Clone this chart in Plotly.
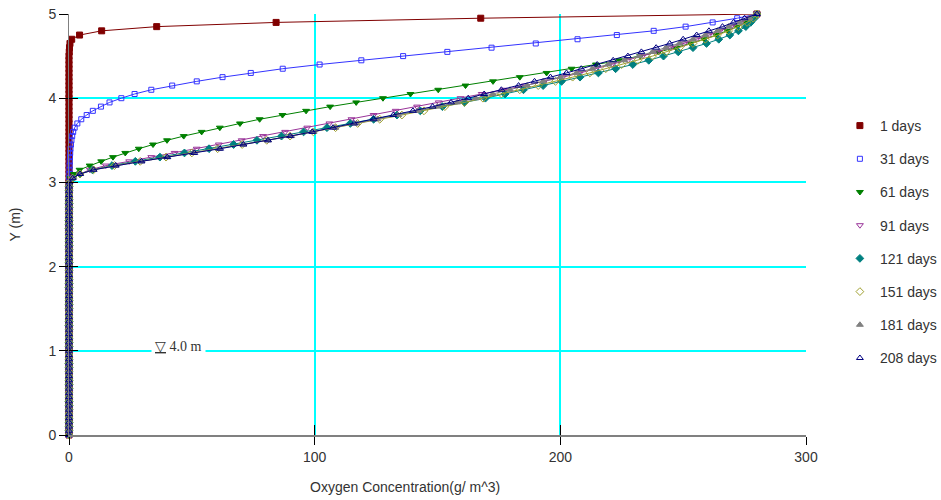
import plotly.graph_objects as go

# Vertical position of each profile node (m)
Y_NODES = [
    0.00, 0.05, 0.10, 0.15, 0.20, 0.25, 0.30, 0.35, 0.40, 0.45,
    0.50, 0.55, 0.60, 0.65, 0.70, 0.75, 0.80, 0.85, 0.90, 0.95,
    1.00, 1.05, 1.10, 1.15, 1.20, 1.25, 1.30, 1.35, 1.40, 1.45,
    1.50, 1.55, 1.60, 1.65, 1.70, 1.75, 1.80, 1.85, 1.90, 1.95,
    2.00, 2.05, 2.10, 2.15, 2.20, 2.25, 2.30, 2.35, 2.40, 2.45,
    2.50, 2.55, 2.60, 2.65, 2.70, 2.75, 2.80, 2.85, 2.90,
    2.95,
    3.00, 3.05, 3.10, 3.15, 3.20, 3.25, 3.30, 3.35, 3.40, 3.45,
    3.50, 3.55, 3.60, 3.65, 3.70, 3.75, 3.80, 3.85, 3.90, 3.95,
    4.00, 4.05, 4.10, 4.15, 4.20, 4.25, 4.30, 4.35, 4.40, 4.45,
    4.50, 4.55, 4.60, 4.65, 4.70, 4.75, 4.80, 4.85, 4.90, 4.95,
    5.00,
]

# Oxygen concentration (g/m^3) at each node, one list per simulation day
C_1D = [
    0, 0, 0, 0, 0, 0, 0, 0, 0, 0, 0, 0, 0, 0, 0, 0, 0, 0, 0, 0,
    0, 0, 0, 0, 0, 0, 0, 0, 0, 0, 0, 0, 0, 0, 0, 0, 0, 0, 0, 0,
    0, 0, 0, 0, 0, 0, 0, 0, 0, 0, 0, 0, 0, 0, 0, 0, 0, 0, 0,
    0,
    0, 0, 0, 0, 0, 0, 0, 0, 0, 0,
    0, 0, 0, 0, 0, 0, 0, 0, 0, 0,
    0, 0, 0, 0, 0, 0, 0, 0, 0, 0,
    0, 0.1, 0.2, 0.4, 1.1, 4.3, 13.3, 35.7, 84.3, 167.6,
    280,
]
C_31D = [
    0, 0, 0, 0, 0, 0, 0, 0, 0, 0, 0, 0, 0, 0, 0, 0, 0, 0, 0, 0,
    0, 0, 0, 0, 0, 0, 0, 0, 0, 0, 0, 0, 0, 0, 0, 0, 0, 0, 0, 0,
    0, 0, 0, 0, 0, 0, 0, 0, 0, 0, 0, 0, 0, 0, 0, 0, 0, 0, 0,
    0,
    0.05, 0.1, 0.15, 0.2, 0.25, 0.3, 0.4, 0.5, 0.6, 0.8,
    1.0, 1.3, 1.7, 2.3, 3.4, 5.0, 7.2, 9.7, 13.0, 16.5,
    21.3, 26.7, 33.5, 42, 52, 62.5, 74, 87, 102, 119,
    136, 154, 172, 190, 207, 223, 238, 251, 262, 272,
    280,
]
C_61D = [
    0, 0, 0, 0, 0, 0, 0, 0, 0, 0, 0, 0, 0, 0, 0, 0, 0, 0, 0, 0,
    0, 0, 0, 0, 0, 0, 0, 0, 0, 0, 0, 0, 0, 0, 0, 0, 0, 0, 0, 0,
    0, 0, 0, 0, 0, 0, 0, 0, 0, 0, 0, 0, 0, 0, 0, 0, 0, 0, 0,
    0,
    0.2, 0.6, 2.0, 4.3, 8.4, 13.1, 17.9, 22.9, 28.4, 34.2,
    39.9, 46.7, 54.0, 61.4, 69.6, 77.6, 86.9, 96.5, 106.3, 116.9,
    127.8, 139, 150.3, 161.4, 172.6, 183.5, 194.4, 204.6, 214.5, 224,
    232.5, 240, 247, 253, 258.5, 263.5, 268, 272, 275.5, 278,
    280,
]
C_91D = [
    0, 0, 0, 0, 0, 0, 0, 0, 0, 0, 0, 0, 0, 0, 0, 0, 0, 0, 0, 0,
    0, 0, 0, 0, 0, 0, 0, 0, 0, 0, 0, 0, 0, 0, 0, 0, 0, 0, 0, 0,
    0, 0, 0, 0, 0, 0, 0, 0, 0, 0, 0, 0, 0, 0, 0, 0, 0, 0, 0,
    0,
    0.2, 1.5, 4.5, 8.5, 15, 24.5, 33.5, 43, 52, 61,
    70.3, 79, 88, 97, 106, 115, 124, 133, 141.7, 150.5,
    159.4, 168, 177, 185.5, 193.5, 201, 208, 214.5, 221, 227.5,
    233.5, 239.5, 245, 250.5, 255.5, 260.5, 265, 269.5, 273.5, 277,
    280,
]
C_121D = [
    0, 0, 0, 0, 0, 0, 0, 0, 0, 0, 0, 0, 0, 0, 0, 0, 0, 0, 0, 0,
    0, 0, 0, 0, 0, 0, 0, 0, 0, 0, 0, 0, 0, 0, 0, 0, 0, 0, 0, 0,
    0, 0, 0, 0, 0, 0, 0, 0, 0, 0, 0, 0, 0, 0, 0, 0, 0, 0, 0,
    0,
    0.2, 1.5, 4.5, 9.5, 17.5, 27, 37, 47, 57, 67,
    76.5, 86.5, 95.5, 105, 114.5, 124, 133.5, 143, 152, 161,
    169.5, 177.5, 185, 193, 200.5, 208, 215.5, 222.5, 229.5, 236,
    242, 248, 254, 259.5, 264.5, 269, 272.5, 275.5, 277.5, 279,
    280,
]
C_151D = [
    0, 0, 0, 0, 0, 0, 0, 0, 0, 0, 0, 0, 0, 0, 0, 0, 0, 0, 0, 0,
    0, 0, 0, 0, 0, 0, 0, 0, 0, 0, 0, 0, 0, 0, 0, 0, 0, 0, 0, 0,
    0, 0, 0, 0, 0, 0, 0, 0, 0, 0, 0, 0, 0, 0, 0, 0, 0, 0, 0,
    0,
    0.2, 1.5, 4.5, 10, 18.5, 29, 39.5, 50, 60.5, 70.5,
    80.5, 90, 99.5, 108.5, 117.5, 126.5, 135.5, 144.5, 153, 161,
    168.5, 176, 183.5, 191, 198, 205, 212, 218.5, 225, 231.5,
    237.5, 243, 248.5, 254, 259, 264, 268.5, 272.5, 276, 278.5,
    280,
]
C_181D = [
    0, 0, 0, 0, 0, 0, 0, 0, 0, 0, 0, 0, 0, 0, 0, 0, 0, 0, 0, 0,
    0, 0, 0, 0, 0, 0, 0, 0, 0, 0, 0, 0, 0, 0, 0, 0, 0, 0, 0, 0,
    0, 0, 0, 0, 0, 0, 0, 0, 0, 0, 0, 0, 0, 0, 0, 0, 0, 0, 0,
    0,
    0.2, 1.5, 4.5, 10, 19, 29.5, 40, 50.5, 61, 71,
    81, 90.5, 99.5, 108.5, 117, 125.5, 134, 142, 150, 158,
    165.5, 172.5, 179.5, 186.5, 193, 200, 206.5, 213, 219.5, 226,
    232, 237.5, 243, 248.5, 254, 259, 264, 268.5, 273, 277,
    280,
]
C_208D = [
    0, 0, 0, 0, 0, 0, 0, 0, 0, 0, 0, 0, 0, 0, 0, 0, 0, 0, 0, 0,
    0, 0, 0, 0, 0, 0, 0, 0, 0, 0, 0, 0, 0, 0, 0, 0, 0, 0, 0, 0,
    0, 0, 0, 0, 0, 0, 0, 0, 0, 0, 0, 0, 0, 0, 0, 0, 0, 0, 0,
    0,
    0.2, 1.5, 4.5, 10, 19, 29.5, 40, 51, 61.5, 71,
    81, 90, 99, 107.5, 116, 124, 132, 140, 148, 155.5,
    162.5, 169, 176, 183, 189.5, 196, 202.5, 208.5, 215, 221.5,
    227.5, 233, 239, 244.5, 250, 255.5, 260.5, 266, 270.5, 275,
    280,
]

SERIES_NAMES = ["1 days", "31 days", "61 days", "91 days",
                "121 days", "151 days", "181 days", "208 days"]
SERIES_VALUES = [C_1D, C_31D, C_61D, C_91D, C_121D, C_151D, C_181D, C_208D]

X_TICKS = [0, 100, 200, 300]
Y_TICKS = [0, 1, 2, 3, 4, 5]
WATER_TABLE_LABEL = "4.0 m"

STYLES = [
    dict(color="#800000", symbol="square", size=6),
    dict(color="#3333ff", symbol="square-open", size=5),
    dict(color="#008000", symbol="triangle-down", size=6),
    dict(color="#993399", symbol="triangle-down-open", size=6),
    dict(color="#008080", symbol="diamond", size=6),
    dict(color="#a0a030", symbol="diamond-open", size=6),
    dict(color="#808080", symbol="triangle-up", size=6),
    dict(color="#000080", symbol="triangle-up-open", size=6),
]

for vals in SERIES_VALUES:
    assert len(vals) == len(Y_NODES)

FONT = "Liberation Sans, Arial, sans-serif"
TEXT = "#333333"

fig = go.Figure()
for name, vals, st in zip(SERIES_NAMES, SERIES_VALUES, STYLES):
    # connecting line (kept out of the legend so the legend shows markers only)
    fig.add_trace(go.Scatter(
        x=vals, y=Y_NODES, mode="lines",
        line=dict(color=st["color"], width=1),
        showlegend=False, hoverinfo="skip",
    ))
    fig.add_trace(go.Scatter(
        x=vals, y=Y_NODES, mode="markers", name=name,
        legendgroup=name, cliponaxis=False,
        marker=dict(color=st["color"], symbol=st["symbol"], size=st["size"],
                    line=dict(color=st["color"], width=1)),
    ))

# empty trace on the overlay axes that carry the inner half of each tick
fig.add_trace(go.Scatter(x=[], y=[], xaxis="x2", yaxis="y2",
                         showlegend=False, hoverinfo="skip"))

fig.add_annotation(
    x=44.5, y=1.0, xref="x", yref="y", yshift=4,
    text="<u>▽</u> " + WATER_TABLE_LABEL, showarrow=False,
    font=dict(family="Liberation Serif, Times New Roman, serif", size=14, color=TEXT),
    bgcolor="white", borderpad=3,
)
fig.add_annotation(
    x=0.456, y=0, xref="paper", yref="paper", yshift=-62,
    text="Oxygen Concentration(g/ m^3)", showarrow=False,
    font=dict(family=FONT, size=14, color=TEXT),
)
fig.add_annotation(
    x=0, y=0.5, xref="paper", yref="paper", xshift=-65,
    text="Y (m)", textangle=-90, showarrow=False,
    font=dict(family=FONT, size=14, color=TEXT),
)

fig.update_layout(
    width=941, height=500,
    margin=dict(l=69, r=135, t=14, b=65, autoexpand=False),
    paper_bgcolor="white", plot_bgcolor="white",
    showlegend=True,
    legend=dict(x=1.046, y=0.772, xanchor="left", yanchor="top",
                font=dict(family=FONT, size=14, color=TEXT),
                tracegroupgap=12, bgcolor="rgba(0,0,0,0)"),
    xaxis=dict(range=[0, 300], tickvals=X_TICKS, ticks="outside", ticklen=8,
               tickcolor="black", showline=True, linecolor="#808080", linewidth=2,
               showgrid=True, gridcolor="#00ffff", gridwidth=1.5, zeroline=False,
               tickfont=dict(family=FONT, size=14, color=TEXT)),
    yaxis=dict(range=[0, 5], tickvals=Y_TICKS, ticks="outside", ticklen=9,
               tickcolor="black", showline=True, linecolor="#808080", linewidth=1,
               showgrid=True, gridcolor="#00ffff", gridwidth=1.5, zeroline=False,
               tickfont=dict(family=FONT, size=14, color=TEXT)),
    xaxis2=dict(overlaying="x", anchor="y", range=[0, 300], tickvals=X_TICKS,
                ticks="inside", ticklen=10, tickcolor="black", showticklabels=False,
                showgrid=False, zeroline=False, showline=False),
    yaxis2=dict(overlaying="y", anchor="x", range=[0, 5], tickvals=Y_TICKS,
                ticks="inside", ticklen=9, tickcolor="black", showticklabels=False,
                showgrid=False, zeroline=False, showline=False),
)

fig.write_html("out.html")
